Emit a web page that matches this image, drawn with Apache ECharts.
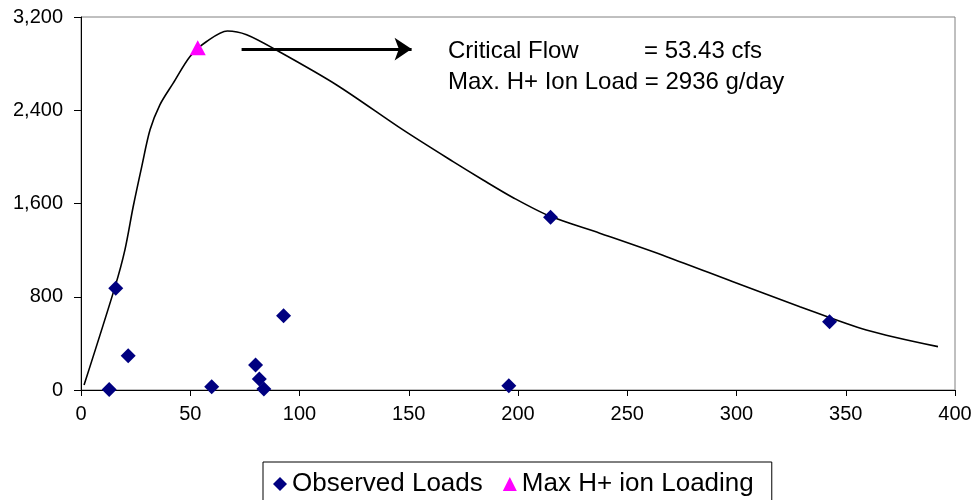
<!DOCTYPE html>
<html>
<head>
<meta charset="utf-8">
<script src="https://cdn.jsdelivr.net/npm/echarts@6/dist/echarts.min.js"></script>
<style>
  html, body { margin: 0; padding: 0; background: #fff; }
  #main { width: 975px; height: 500px; }
</style>
</head>
<body>
<div id="main"></div>
<script>
// observed loads (flow cfs, load g/day)
var obsFlow = [12.9, 15.9, 21.6, 59.8, 79.9, 81.6, 83.7, 92.7, 195.8, 214.9, 342.6];
var obsLoad = [5, 873, 294, 28, 215, 94, 9, 638, 37, 1483, 586];

// max H+ ion loading point
var maxFlow = [53.43];
var maxLoad = [2936];

// fitted load curve
var curveFlow = [1.4, 15.6, 20.1, 23.9, 27.8, 31.6, 36.1, 42.2, 49.9, 57.5, 67, 75.8, 90, 117, 147.4, 170.3, 184, 197.8, 214.5, 237.4, 268, 298.4, 329, 359.4, 392.2];
var curveLoad = [43, 887, 1202, 1574, 1917, 2232, 2447, 2633, 2862, 2990, 3080, 3048, 2910, 2617, 2231, 1959, 1802, 1650, 1492, 1345, 1144, 929, 715, 515, 372];

// arrow pointing at the annotation
var arrowFlow = [73.5, 151.3];
var arrowLoad = [2925, 2925];

var xTicks = [0, 400, 50];
var yTicks = [0, 3200, 800];

function pairs(xs, ys) {
    var out = [];
    for (var i = 0; i < xs.length; i++) {
        out.push([xs[i], ys[i]]);
    }
    return out;
}

var font = 'Liberation Sans, Arial, sans-serif';
var myChart = echarts.init(document.getElementById('main'));
var option = {
    animation: false,
    grid: {
        left: 81,
        right: 20,
        top: 17,
        bottom: 110,
        show: true,
        borderColor: '#808080',
        borderWidth: 1
    },
    legend: {
        left: 263,
        top: 462,
        padding: [9, 18, 20, 10],
        itemGap: 20,
        itemWidth: 14,
        itemHeight: 14,
        borderColor: '#000',
        borderWidth: 1,
        textStyle: { fontFamily: font, fontSize: 26, color: '#000' },
        data: [
            { name: 'Observed Loads', icon: 'diamond' },
            { name: 'Max H+ ion Loading', icon: 'triangle' }
        ]
    },
    xAxis: {
        type: 'value',
        min: xTicks[0],
        max: xTicks[1],
        interval: xTicks[2],
        splitLine: { show: false },//不显示网格
        axisLine: { show: true, onZero: false, lineStyle: { color: '#000', width: 1 } },
        axisTick: { show: true, length: 6, lineStyle: { color: '#000' } },
        axisLabel: { margin: 14, fontFamily: font, fontSize: 20, color: '#000' }
    },
    yAxis: {
        type: 'value',
        min: yTicks[0],
        max: yTicks[1],
        interval: yTicks[2],
        splitLine: { show: false },
        axisLine: { show: true, onZero: false, lineStyle: { color: '#000', width: 1 } },
        axisTick: { show: true, length: 7, lineStyle: { color: '#000' } },
        axisLabel: {
            margin: 18,
            fontFamily: font,
            fontSize: 20,
            color: '#000',
            formatter: function (v) { return v.toLocaleString('en-US'); }
        }
    },
    series: [
        {
            name: 'curve',
            type: 'line',
            data: pairs(curveFlow, curveLoad),
            smooth: 0.3,
            showSymbol: false,
            lineStyle: { color: '#000', width: 1.6 },
            z: 2
        },
        {
            name: 'arrow',
            type: 'line',
            data: [],
            markLine: {
                silent: true,
                symbol: ['none', 'arrow'],
                symbolSize: [17, 17],
                label: { show: false },
                lineStyle: { color: '#000', width: 3, type: 'solid' },
                data: [[
                    { coord: [arrowFlow[0], arrowLoad[0]] },
                    { coord: [arrowFlow[1], arrowLoad[1]] }
                ]]
            }
        },
        {
            name: 'Observed Loads',
            type: 'scatter',
            symbol: 'diamond',
            symbolSize: 15,
            itemStyle: { color: '#000080', opacity: 1 },
            data: pairs(obsFlow, obsLoad),
            z: 3
        },
        {
            name: 'Max H+ ion Loading',
            type: 'scatter',
            symbol: 'triangle',
            symbolSize: [16, 15],
            itemStyle: { color: '#FF00FF', opacity: 1 },
            data: pairs(maxFlow, maxLoad),
            z: 3
        }
    ],
    graphic: [
        {
            type: 'text', left: 448, top: 39,
            style: { text: 'Critical Flow', font: '24px ' + font, fill: '#000' }
        },
        {
            type: 'text', left: 644, top: 39,
            style: { text: '= 53.43 cfs', font: '24px ' + font, fill: '#000' }
        },
        {
            type: 'text', left: 448, top: 70,
            style: { text: 'Max. H+ Ion Load = 2936 g/day', font: '24px ' + font, fill: '#000' }
        }
    ]
};
myChart.setOption(option);
</script>
</body>
</html>
